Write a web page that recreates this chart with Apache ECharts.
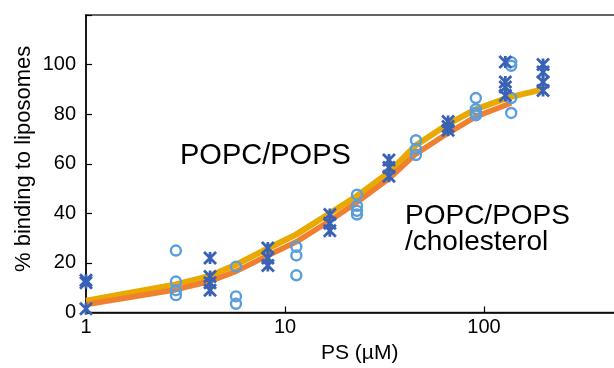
<!DOCTYPE html>
<html><head><meta charset="utf-8">
<script src="https://cdn.jsdelivr.net/npm/echarts@6/dist/echarts.min.js"></script>
<style>html,body{margin:0;padding:0;background:#fff}#c{width:614px;height:368px}</style>
</head><body><div id="c"></div>
<script>
// Data
const circleConc = [2.83, 5.67, 11.4, 23, 45.5, 91, 137];
const circleVals = [[25, 12.5, 9, 7], [18.5, 6.5, 3.5], [26.5, 23, 15], [47.5, 43, 41, 39.5], [69.5, 66, 63.5], [86.5, 82, 80.5, 79.5], [101, 99.5, 86.5, 80.5]];
const starConc = [1, 4.2, 8.2, 16.8, 33.3, 66, 128, 198];
const starVals = [[12, 13, 1.5], [22, 14.5, 12, 9], [26, 22, 19], [39.5, 36, 33], [61.5, 58.5, 55], [77, 75, 73.5], [101, 93, 91, 87.5], [100, 97, 93, 89.5]];
const goldX = [1, 2.83, 4.2, 5.67, 8.2, 11.4, 16.8, 23, 33.3, 45.5, 66, 91, 133, 198];
const goldY = [4.8, 11.3, 14.8, 19.3, 25.8, 31.5, 40, 47, 56.5, 67.5, 76, 82, 86.8, 90];
const orangeX = [1, 2.83, 4.2, 5.67, 8.2, 11.4, 16.8, 23, 33.3, 45.5, 66, 91, 137];
const orangeY = [3.2, 9.2, 12.6, 16.6, 23, 28.5, 37, 44.5, 54, 64, 72.4, 79, 84.5];
const xTicks = [1, 10, 100];
const yTicks = [0, 20, 40, 60, 80, 100];
const labelA = 'POPC/POPS';
const labelB = 'POPC/POPS\n/cholesterol';
const xName = 'PS (\u00b5M)';
const yName = '% binding to liposomes';

function flatten(conc, vals) {
  const out = [];
  conc.forEach((c, i) => vals[i].forEach(v => out.push([c, v])));
  return out;
}
const zip = (a, b) => a.map((x, i) => [x, b[i]]);
const FONT = 'Liberation Sans, Arial, Helvetica, sans-serif';

const chart = echarts.init(document.getElementById('c'), null, {renderer: 'canvas'});
chart.setOption({
  animation: false,
  backgroundColor: '#fff',
  grid: {left: 86, right: -69, top: 15, bottom: 55.5, outerBoundsMode: 'none', containLabel: false,
    show: true, borderColor: '#333', borderWidth: 1.5, backgroundColor: 'transparent'},
  xAxis: {
    type: 'log', logBase: 10, min: 1, max: 1000,
    axisLine: {lineStyle: {color: '#000', width: 1.5}},
    axisTick: {inside: true, length: 6, lineStyle: {color: '#000', width: 1.2}},
    minorTick: {show: false},
    axisLabel: {fontSize: 20, color: '#000', margin: 5, fontFamily: FONT,
      formatter: v => xTicks.indexOf(Math.round(v)) >= 0 ? String(Math.round(v)) : ''},
    splitLine: {show: false}
  },
  yAxis: {
    type: 'value', min: 0, max: 120, interval: 20,
    axisLine: {show: true, lineStyle: {color: '#000', width: 1.5}},
    axisTick: {show: true, inside: true, length: 6, lineStyle: {color: '#000', width: 1.2}},
    axisLabel: {fontSize: 20, color: '#000', margin: 10, fontFamily: FONT,
      formatter: v => yTicks.indexOf(v) >= 0 ? String(v) : ''},
    splitLine: {show: false}
  },
  graphic: [
    {type: 'text', left: 180, top: 141, style: {text: labelA, font: '29px ' + FONT, fill: '#000'}},
    {type: 'text', left: 405, top: 202, style: {text: labelB, font: '28px ' + FONT, fill: '#000', lineHeight: 26}},
    {type: 'text', left: 321, top: 343, style: {text: xName, font: '21px ' + FONT, fill: '#000'}},
    {type: 'text', x: 13, y: 272, rotation: Math.PI / 2, style: {text: yName, font: '22px ' + FONT, fill: '#000'}}
  ],
  series: [
    {type: 'line', data: zip(goldX, goldY), symbol: 'none', lineStyle: {color: '#E8AA00', width: 6}, z: 2},
    {type: 'line', data: zip(orangeX, orangeY), symbol: 'none', lineStyle: {color: '#F07F30', width: 5.5}, z: 3},
    {type: 'scatter', data: flatten(circleConc, circleVals), symbol: 'circle', symbolSize: 10,
      itemStyle: {color: 'rgba(0,0,0,0)', borderColor: '#5A9EDC', borderWidth: 2.4, opacity: 1}, z: 4},
    {type: 'scatter', data: flatten(starConc, starVals), symbol: 'path://M0,0L10,12M10,0L0,12M5,0L5,12', symbolSize: [12, 12],
      itemStyle: {color: 'rgba(0,0,0,0)', borderColor: '#3A62B4', borderWidth: 2.8, opacity: 1}, z: 5}
  ]
});
</script></body></html>
